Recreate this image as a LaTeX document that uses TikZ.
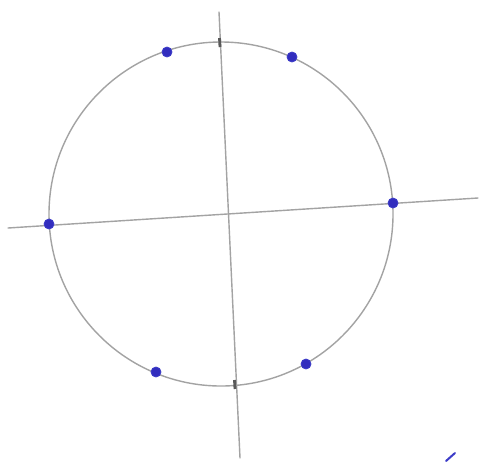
\documentclass[tikz,border=0pt]{standalone}
\definecolor{inkfill}{RGB}{50,45,190}
\definecolor{inkdraw}{RGB}{60,60,200}
\begin{document}
\begin{tikzpicture}[x=0.5pt,y=-0.5pt,
  pencil/.style={draw=black!36, line width=0.7pt, line cap=round},
  bluedot/.style={circle, fill=inkfill, draw=inkdraw, inner sep=0pt, minimum size=5pt},
  tick/.style={draw=black!65, line width=1.4pt}]
\useasboundingbox (0,0) rectangle (480,461);
\fill[white] (0,0) rectangle (480,461);
% axes
\coordinate (vt) at (219,12);
\coordinate (vb) at (240,458);
\coordinate (hl) at (8,228);
\coordinate (hr) at (478,198);
\draw[pencil] (vt) -- (vb);
\draw[pencil] (hl) -- (hr);
% circle
\coordinate (c) at (221,214);
\draw[pencil] (c) circle[radius=172];
% ticks
\coordinate (t1a) at (219.5,38); \coordinate (t1b) at (220,47);
\draw[tick] (t1a) -- (t1b);
\coordinate (t2a) at (234.5,380); \coordinate (t2b) at (235,389);
\draw[tick] (t2a) -- (t2b);
% blue dots
\node[bluedot] (d1) at (167,52) {};
\node[bluedot] (d2) at (292,57) {};
\node[bluedot] (d3) at (393,203) {};
\node[bluedot] (d4) at (49,224) {};
\node[bluedot] (d5) at (156,372) {};
\node[bluedot] (d6) at (306,364) {};
% stray blue stroke
\coordinate (s1) at (446,461); \coordinate (s2) at (455,453);
\draw[draw=inkdraw, line width=1pt, line cap=round] (s1) -- (s2);
\end{tikzpicture}
\end{document}
